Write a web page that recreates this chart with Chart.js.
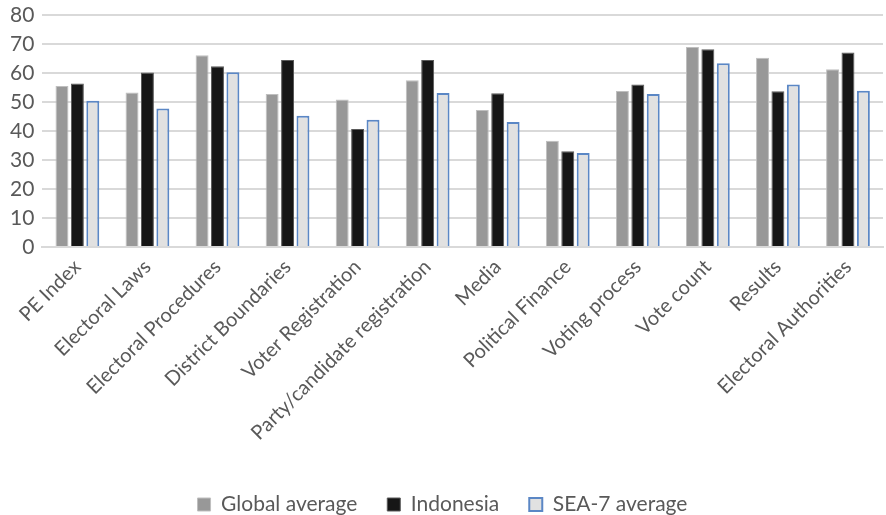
<!DOCTYPE html>
<html>
<head>
<meta charset="utf-8">
<script src="https://cdn.jsdelivr.net/npm/chart.js@4"></script>
<style>
  html, body { margin: 0; padding: 0; background: #ffffff; }
  #wrap { width: 886px; height: 515px; position: relative; }
</style>
</head>
<body>
<div id="wrap"><canvas id="chart" width="886" height="515"></canvas></div>
<script>
const categories = [
  "PE Index", "Electoral Laws", "Electoral Procedures", "District Boundaries",
  "Voter Registration", "Party/candidate registration", "Media", "Political Finance",
  "Voting process", "Vote count", "Results", "Electoral Authorities"
];
const globalAverage = [55.5, 53.3, 66.1, 52.8, 50.9, 57.5, 47.2, 36.6, 53.8, 69.0, 65.3, 61.3];
const indonesia     = [56.4, 60.2, 62.3, 64.5, 40.7, 64.5, 53.0, 33.0, 56.0, 68.2, 53.7, 67.1];
const sea7Average   = [50.4, 47.8, 60.3, 45.3, 43.9, 53.1, 43.1, 32.4, 52.8, 63.4, 56.0, 53.9];
const yTicks = [0, 10, 20, 30, 40, 50, 60, 70, 80];

const FONT = "Lato, 'Open Sans', sans-serif";
const TEXT = "#595959";

// Pull the legend row closer to the bottom edge of the canvas.
const legendNudge = {
  id: "legendNudge",
  afterLayout(chart) {
    if (chart.legend) {
      chart.legend.top += 10;
      chart.legend.bottom += 10;
    }
  }
};

new Chart(document.getElementById("chart"), {
  type: "bar",
  data: {
    labels: categories,
    datasets: [
      { label: "Global average", data: globalAverage, backgroundColor: "#989898",
        borderColor: "#bfbfbf", borderWidth: 1 },
      { label: "Indonesia", data: indonesia, backgroundColor: "#161616",
        borderColor: "#5a5a5a", borderWidth: 1 },
      { label: "SEA-7 average", data: sea7Average, backgroundColor: "#e1e1e1",
        borderColor: "#5b87c5", borderWidth: 2 }
    ]
  },
  plugins: [legendNudge],
  options: {
    responsive: false,
    animation: false,
    layout: { padding: { left: 2, right: 3, top: 15, bottom: 0 } },
    datasets: { bar: { categoryPercentage: 0.66, barPercentage: 0.84 } },
    scales: {
      x: {
        grid: { display: false },
        border: { color: "#d9d9d9", width: 2 },
        afterFit: (scale) => { scale.height = 207; },
        ticks: {
          color: TEXT, font: { family: FONT, size: 20 },
          minRotation: 45, maxRotation: 45, autoSkip: false, padding: 0
        }
      },
      y: {
        min: 0, max: 80,
        afterBuildTicks: (axis) => { axis.ticks = yTicks.map(v => ({ value: v })); },
        afterFit: (scale) => { scale.paddingTop = 0; },
        grid: { color: "#d9d9d9", lineWidth: 2, drawTicks: false },
        border: { display: false },
        ticks: { color: TEXT, font: { family: FONT, size: 21 }, padding: 8 }
      }
    },
    plugins: {
      legend: {
        position: "bottom",
        labels: {
          color: TEXT, font: { family: FONT, size: 21 },
          boxWidth: 13, boxHeight: 13, padding: 30
        }
      },
      tooltip: { enabled: false }
    }
  }
});
</script>
</body>
</html>
